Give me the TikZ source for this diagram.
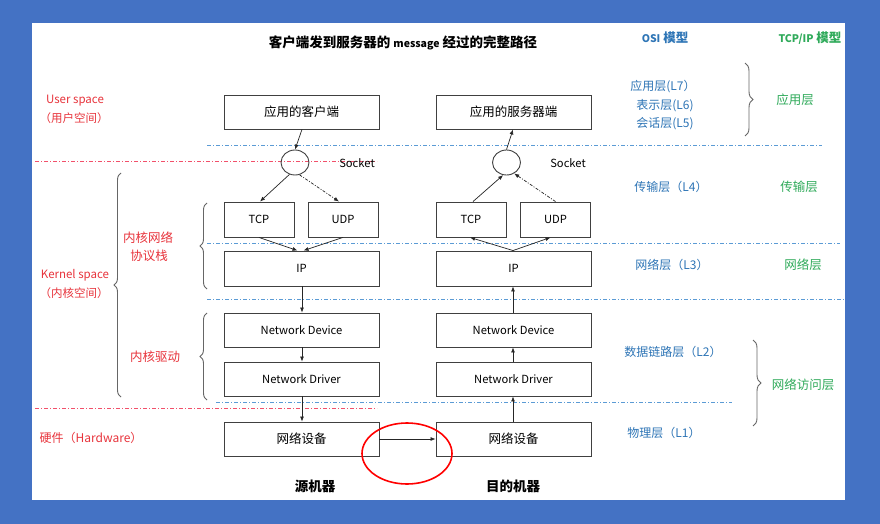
\documentclass[tikz,border=0pt]{standalone}
\usepackage{fontspec}
\setmainfont{Noto Sans CJK SC}
\usetikzlibrary{arrows.meta,shapes.geometric,calc,decorations.pathreplacing}
\definecolor{bgblue}{HTML}{4472C4}
\definecolor{redtxt}{HTML}{E8343C}
\definecolor{bluetxt}{HTML}{2E75B6}
\definecolor{greentxt}{HTML}{2FAA5A}
\definecolor{dashblue}{HTML}{5B9BD5}
\definecolor{dashred}{HTML}{F2506A}
\definecolor{boxline}{HTML}{404040}
\newcommand{\fsz}[1]{\fontsize{#1}{#1}\selectfont}
\begin{document}
\begin{tikzpicture}[x=1pt,y=-1pt,
  box/.style={draw=boxline, line width=0.9pt, minimum width=155pt, minimum height=34pt, inner sep=0pt, font=\fsz{11.2}},
  smallbox/.style={box, minimum width=70pt, minimum height=35pt},
  sock/.style={draw=boxline, line width=0.9pt, ellipse, minimum width=28pt, minimum height=25pt, inner sep=0pt},
  arr/.style={-{Latex[length=5pt,width=4pt]}, line width=0.7pt, draw=black!85},
  darr/.style={arr, dash pattern=on 3pt off 1.5pt on 1pt off 1.5pt},
  bluedash/.style={draw=dashblue, line width=1pt, dash pattern=on 4pt off 2pt on 1pt off 2pt},
  reddash/.style={draw=dashred, line width=1pt, dash pattern=on 4pt off 2pt on 1pt off 2pt},
  redlbl/.style={text=redtxt, font=\fsz{11.5}, inner sep=0pt},
  bluelbl/.style={text=bluetxt, font=\fsz{12}, inner sep=0pt},
  greenlbl/.style={text=greentxt, font=\fsz{12.5}, inner sep=0pt},
  brc/.style={draw=black!60, line width=0.9pt, decorate, decoration={brace, amplitude=#1}},
  brc/.default=8pt
]
\useasboundingbox (0,0) rectangle (880,524);
\fill[bgblue] (0,0) rectangle (880,524);
\fill[white] (32,23) rectangle (845,500);

% dash-dot separators
\draw[bluedash] (207,145) -- (822,145);
\draw[reddash] (35,161) -- (377,161);
\draw[bluedash] (207,243) -- (840,243);
\draw[bluedash] (207,299) -- (845,299);
\draw[bluedash] (216,402) -- (732,402);
\draw[reddash] (35,408) -- (377,408);

% title and headers
\node[font=\bfseries\fsz{13.5}, inner sep=0pt] (title) at (403,43) {客户端发到服务器的 \fsz{10.5}message\fsz{13.5} 经过的完整路径};
\node[font=\bfseries\fsz{12.5}, text=bluetxt, inner sep=0pt] (osi) at (665,38) {\fsz{10.5}OSI\fsz{12.5} 模型};
\node[font=\bfseries\fsz{12.5}, text=greentxt, inner sep=0pt] (tcpip) at (810,38) {\fsz{10.5}TCP/IP\fsz{12.5} 模型};

% left column (source)
\node[box, font=\fsz{12.5}] (cli) at (301.5,112) {应用的客户端};
\node[sock] (sockL) at (295,162.5) {};
\node[smallbox] (tcpL) at (259,219.5) {TCP};
\node[smallbox] (udpL) at (343,219.5) {UDP};
\node[box, minimum height=35pt] (ipL) at (301.5,268.5) {IP};
\node[box] (ndevL) at (301.5,330) {Network Device};
\node[box] (ndrvL) at (301.5,379) {Network Driver};
\node[box, font=\fsz{12.5}] (hwL) at (301.5,439) {网络设备};

% right column (destination)
\node[box, font=\fsz{12.5}] (srv) at (513.5,112) {应用的服务器端};
\node[sock] (sockR) at (506.5,162.5) {};
\node[smallbox] (tcpR) at (471,219.5) {TCP};
\node[smallbox] (udpR) at (555.5,219.5) {UDP};
\node[box, minimum height=35pt] (ipR) at (513.5,268.5) {IP};
\node[box] (ndevR) at (513.5,330) {Network Device};
\node[box] (ndrvR) at (513.5,379) {Network Driver};
\node[box, font=\fsz{12.5}] (hwR) at (513.5,439) {网络设备};

% socket labels
\node[font=\fsz{11.2}, inner sep=0pt] (sockLL) at (357,163) {Socket};
\node[font=\fsz{11.2}, inner sep=0pt] (sockRL) at (568,163) {Socket};

% source arrows
\draw[arr] ($(cli.south)+(0.5,0)$) -- (sockL.north);
\draw[arr] (sockL.-115) -- ($(tcpL.north)+(1,0)$);
\draw[darr] (sockL.-70) -- ($(udpL.north)+(-4,0)$);
\draw[arr] (tcpL.south) -- ($(ipL.north)+(-4,0)$);
\draw[arr] (udpL.south) -- ($(ipL.north)+(2,0)$);
\draw[arr] ($(ipL.south)+(0.5,0)$) -- ($(ndevL.north)+(0.5,0)$);
\draw[arr] ($(ndevL.south)+(0.5,0)$) -- ($(ndrvL.north)+(0.5,0)$);
\draw[arr] ($(ndrvL.south)+(0.5,0)$) -- ($(hwL.north)+(0.5,0)$);

% destination arrows
\draw[arr] ($(hwR.north)+(-0.5,0)$) -- ($(ndrvR.south)+(-0.5,0)$);
\draw[arr] ($(ndrvR.north)+(-0.5,0)$) -- ($(ndevR.south)+(-0.5,0)$);
\draw[arr] ($(ndevR.north)+(-0.5,0)$) -- ($(ipR.south)+(-0.5,0)$);
\draw[arr] ($(ipR.north)+(-0.5,0)$) -- ($(tcpR.south)+(-1,0)$);
\draw[arr] ($(ipR.north)+(-0.5,0)$) -- ($(udpR.south)+(-5,0)$);
\draw[arr] ($(tcpR.north)+(2,0)$) -- (sockR.-105);
\draw[darr] ($(udpR.north)+(0,0)$) -- (sockR.-55);
\draw[arr] (sockR.north) -- ($(srv.south)+(-0.5,0)$);

% wire between machines
\draw[arr] (hwL.east) -- (hwR.west);
\node[draw=red, line width=1.6pt, ellipse, minimum width=90pt, minimum height=61pt, inner sep=0pt] (mark) at (407,453.5) {};

% machine labels
\node[font=\bfseries\fsz{13.5}, inner sep=0pt] (srcm) at (315,486) {源机器};
\node[font=\bfseries\fsz{13.5}, inner sep=0pt] (dstm) at (513,486) {目的机器};

% left labels
\node[redlbl] (us1) at (75,101) {User space};
\node[redlbl] (us2) at (74,118) {（用户空间）};
\node[redlbl] (ks1) at (75,275) {Kernel space};
\node[redlbl] (ks2) at (74,293) {（内核空间）};
\node[redlbl, font=\fsz{12.5}] (kn1) at (148,238) {内核网络};
\node[redlbl, font=\fsz{12.5}] (kn2) at (149,256) {协议栈};
\node[redlbl, font=\fsz{12.5}] (kd) at (155,357) {内核驱动};
\node[redlbl, font=\fsz{12}] (hwlbl) at (91,438) {硬件（Hardware）};

\draw[brc=7pt] (121,397) -- (121,173);
\draw[brc=7pt] (207,289) -- (207,203);
\draw[brc=7pt] (207,400) -- (207,313);

% OSI labels
\node[bluelbl] (l7) at (663,87) {应用层(L7）};
\node[bluelbl] (l6) at (665,106) {表示层(L6)};
\node[bluelbl] (l5) at (665,124) {会话层(L5)};
\node[bluelbl] (l4) at (671,187) {传输层（L4）};
\node[bluelbl] (l3) at (672,265) {网络层（L3）};
\node[bluelbl] (l2) at (673,352) {数据链路层（L2）};
\node[bluelbl] (l1) at (664,433) {物理层（L1）};

% TCP/IP labels
\node[greenlbl] (tapp) at (795,100) {应用层};
\node[greenlbl] (ttr) at (799,187) {传输层};
\node[greenlbl] (tnet) at (803,265) {网络层};
\node[greenlbl] (tacc) at (803,385) {网络访问层};

\draw[brc=8pt] (745,63) -- (745,136);
\draw[brc=8pt] (753,340) -- (753,426);
\end{tikzpicture}
\end{document}
